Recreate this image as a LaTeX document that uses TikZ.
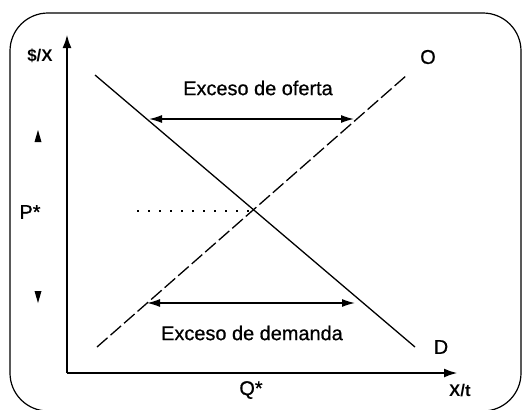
\documentclass[tikz,border=0pt]{standalone}
\usepackage{fontspec}
\setmainfont{Liberation Sans}
\newfontfamily\semib[FakeBold=0.7]{Liberation Sans}
\usetikzlibrary{arrows.meta}
\begin{document}
\begin{tikzpicture}[x=1bp,y=-1bp,
  lbl/.style={inner sep=0pt,font=\fontsize{20}{22}\selectfont\semib},
  blbl/.style={inner sep=0pt,font=\fontsize{17}{19}\selectfont\bfseries},
  axis/.style={line width=2.6bp,-{Latex[length=14bp,width=9bp]}},
  curve/.style={line width=1.3bp},
  dbl/.style={line width=1.4bp,{Latex[length=13bp,width=8bp]}-{Latex[length=13bp,width=8bp]}}]
\useasboundingbox (0,0) rectangle (523,409);
\fill[white] (0,0) rectangle (523,409);
% frame
\draw[line width=1.2bp,rounded corners=38bp] (10,13) rectangle (521,411);
% coordinates
\coordinate (O0) at (67,373);
\coordinate (Ytop) at (67,34);
\coordinate (Xend) at (458,373);
\coordinate (Dstart) at (95,75);
\coordinate (Dend) at (415,347);
\coordinate (Sstart) at (97,347);
\coordinate (Send) at (407,75);
\coordinate (E) at (253,211);
\coordinate (Pdot) at (137,211);
\coordinate (OfL) at (149,119);
\coordinate (OfR) at (354,119);
\coordinate (DeL) at (147,303);
\coordinate (DeR) at (355,303);
% axes
\draw[axis] (O0) -- (Ytop);
\draw[axis] (O0) -- (Xend);
% curves
\draw[curve] (Dstart) -- (Dend);
\draw[curve,dash pattern=on 14bp off 4bp] (Sstart) -- (Send);
\draw[line width=1.2bp,dash pattern=on 2bp off 9bp] (Pdot) -- (E);
% excess arrows
\draw[dbl] (OfL) -- (OfR);
\draw[dbl] (DeL) -- (DeR);
% small triangles
\fill (34.5,142) -- (41.5,142) -- (38,130) -- cycle;
\fill (34.5,291) -- (41.5,291) -- (38,303) -- cycle;
% labels
\node[blbl] (ly) at (40,56) {\$/X};
\node[lbl] (lo) at (428,57) {O};
\node[lbl] (ld) at (441,347) {D};
\node[lbl] (lp) at (30,212) {P*};
\node[lbl] (lq) at (251,390) {Q*};
\node[blbl] (lx) at (460,391) {X/t};
\node[lbl] (lof) at (258,88) {Exceso de oferta};
\node[lbl] (lde) at (252,333) {Exceso de demanda};
\end{tikzpicture}
\end{document}
